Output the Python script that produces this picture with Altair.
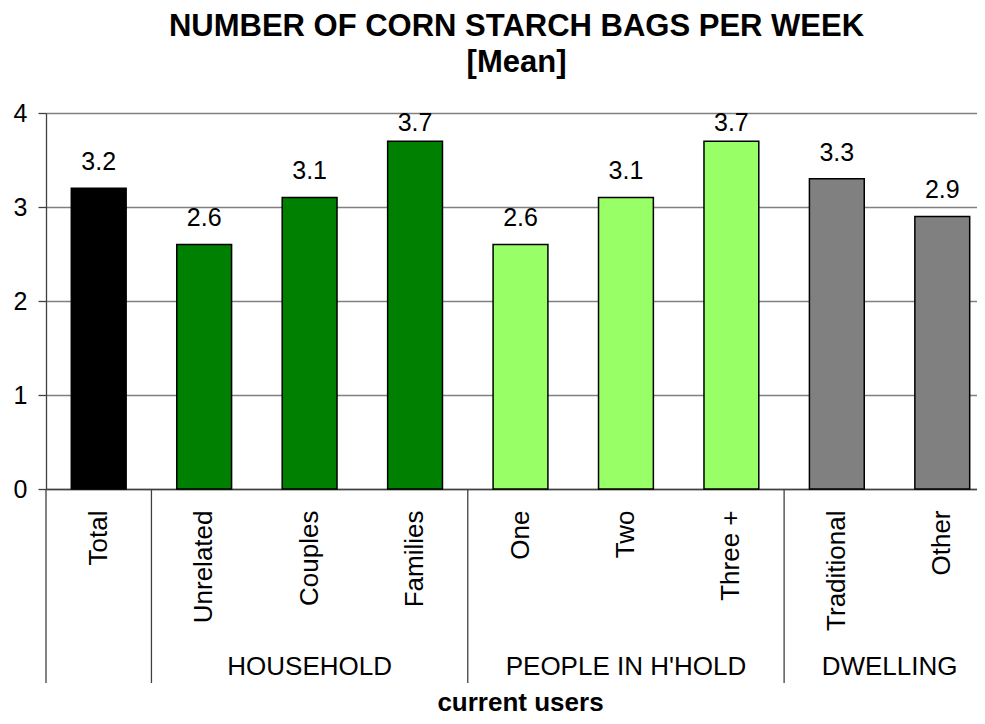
import altair as alt
import pandas as pd

categories = ["Total", "Unrelated", "Couples", "Families", "One", "Two", "Three +", "Traditional", "Other"]
values = [3.2, 2.6, 3.1, 3.7, 2.6, 3.1, 3.7, 3.3, 2.9]
groups = ["", "HOUSEHOLD", "HOUSEHOLD", "HOUSEHOLD",
          "PEOPLE IN H'HOLD", "PEOPLE IN H'HOLD", "PEOPLE IN H'HOLD",
          "DWELLING", "DWELLING"]
group_order = ["", "HOUSEHOLD", "PEOPLE IN H'HOLD", "DWELLING"]
group_colors = ["#000000", "#008000", "#99FF66", "#808080"]
y_ticks = [0, 1, 2, 3, 4]
title_lines = ["NUMBER OF CORN STARCH BAGS PER WEEK", "[Mean]"]
x_title = "current users"

df = pd.DataFrame({
    "category": categories,
    "value": values,
    "group": groups,
    "idx": list(range(len(categories))),
})

FONT = "Liberation Sans"
W = 931          # visible plot width (page is 985 wide)
XR = 949         # x range extends a little past the window, as in the reference
H = 376

band_scale = alt.Scale(domain=categories, paddingInner=0.48, paddingOuter=0.24, range=[0, XR])
y_scale = alt.Scale(domain=[0, 4], nice=False, zero=True)
y_axis = alt.Axis(values=y_ticks, title=None, tickSize=8, tickColor="#404040",
                  domainColor="#404040", domainWidth=1.3, tickWidth=1.3,
                  gridColor="#808080", gridWidth=1.5,
                  labelFontSize=25, labelPadding=11, labelFont=FONT, labelColor="black")

x_axis = alt.Axis(title=x_title, labelAngle=-90, ticks=False, labelPadding=21,
                  labelFontSize=26, labelFont=FONT, labelColor="black",
                  domainColor="#404040", domainWidth=1.6,
                  titleFont=FONT, titleFontSize=26, titleFontWeight="bold",
                  titleColor="black", titleY=221, titleBaseline="alphabetic",
                  titleX=474, labelLimit=300)

base = alt.Chart(df)

bars = base.mark_bar(stroke="black", strokeWidth=1.5).encode(
    x=alt.X("category:N", sort=categories, scale=band_scale, axis=x_axis),
    y=alt.Y("value:Q", scale=y_scale, axis=y_axis),
    color=alt.Color("group:N", scale=alt.Scale(domain=group_order, range=group_colors), legend=None),
)

labels = base.transform_calculate(
    ly="min(datum.value + 0.194, 3.81)"
).mark_text(fontSize=25, font=FONT, baseline="alphabetic", color="black").encode(
    x=alt.X("category:N", sort=categories, scale=band_scale, axis=None),
    y=alt.Y("ly:Q", scale=y_scale, axis=y_axis),
    text=alt.Text("value:Q", format=".1f"),
)

grp = base.transform_aggregate(
    start="min(idx)", end="max(idx)", groupby=["group"]
).transform_calculate(center="(datum.start + datum.end + 1) / 2")

xq_scale = alt.Scale(domain=[0, len(categories)], nice=False, zero=False, range=[0, XR])

rules = grp.mark_rule(color="#404040", strokeWidth=1.3).encode(
    x=alt.X("start:Q", scale=xq_scale, axis=None),
    y=alt.value(H),
    y2=alt.value(H + 194),
)

glabels = grp.mark_text(fontSize=26, font=FONT, baseline="alphabetic", color="black").encode(
    x=alt.X("center:Q", scale=xq_scale, axis=None),
    y=alt.value(562),
    text="group:N",
)

chart = alt.layer(bars, labels, rules, glabels).resolve_scale(x="independent").properties(
    width=W, height=H,
    title=alt.TitleParams(title_lines, fontSize=31, font=FONT, fontWeight="bold",
                          lineHeight=36, anchor="middle", color="black",
                          baseline="alphabetic", offset=1, dx=5, dy=3),
    autosize=alt.AutoSizeParams(type="none"),
    padding={"left": 38, "top": 105, "right": 0, "bottom": 227},
).configure_view(stroke=None).configure(background="white")

chart.save("out.html", embed_options={"renderer": "svg", "actions": False})
